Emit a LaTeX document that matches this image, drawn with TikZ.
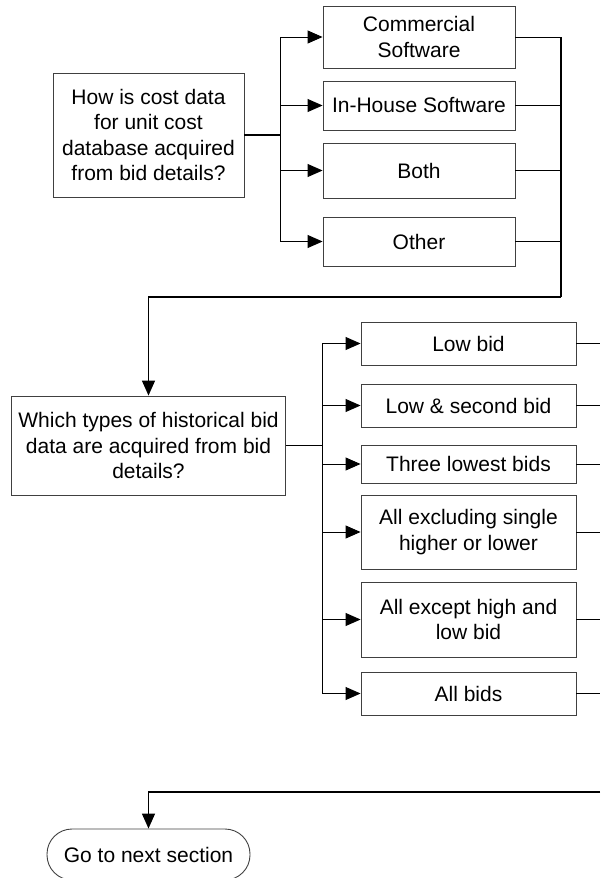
\documentclass[tikz,border=0pt]{standalone}
\usepackage{fontspec}
\setmainfont{Liberation Sans}
\usetikzlibrary{arrows.meta}

\begin{document}
\begin{tikzpicture}[x=1pt,y=-1pt,
    box/.style={draw=black!75, line width=0.9pt, align=center, inner sep=0pt,
        font=\fontsize{21}{25.5}\selectfont},
    tip/.style={-{Triangle[length=15pt,width=13pt]}},
    route/.style={line width=1.4pt, black},
    branch/.style={line width=0.9pt, black}]

    \useasboundingbox (0,0) rectangle (600,878);

    % questions
    \node[box, minimum width=191pt, minimum height=124pt] (q1) at (148.5,135)
        {How is cost data\\for unit cost\\database acquired\\from bid details?};
    \node[box, minimum width=274pt, minimum height=99pt] (q2) at (148.5,445.5)
        {Which types of historical bid\\data are acquired from bid\\details?};
    \node[box, minimum width=203pt, minimum height=51pt, rounded corners=25pt] (next) at (148.5,854.5)
        {Go to next section};

    % answers to the first question
    \foreach \name/\y/\h/\txt in {comm/37/62/{Commercial\\Software}, inhouse/105.5/49/{In-House Software},
            both/170.5/55/{Both}, other/241.5/49/{Other}}
        \node[box, minimum width=192pt, minimum height=\h pt] (\name) at (419,\y) {\txt};

    % answers to the second question
    \foreach \name/\y/\h/\txt in {low/343.5/43/{Low bid}, second/405.5/43/{Low \& second bid},
            three/464/38/{Three lowest bids}, excl/532/74/{All excluding single\\higher or lower},
            except/619.5/75/{All except high and\\low bid}, all/693.5/43/{All bids}}
        \node[box, minimum width=215pt, minimum height=\h pt] (\name) at (468.5,\y) {\txt};

    \coordinate (b1) at (280,135);
    \coordinate (r1) at (561,297);
    \coordinate (b2) at (322,445.5);
    \coordinate (r2) at (600,792);

    \draw[route] (q1.east) -- (b1);
    \draw[branch] (b1 |- comm.west) -- (b1 |- other.west);
    \foreach \name in {comm,inhouse,both,other} {
        \draw[branch,tip] (b1 |- \name.west) -- (\name.west);
        \draw[branch] (\name.east) -- (r1 |- \name.east);
    }
    \draw[route] (r1 |- comm.east) -- (r1);
    \draw[route,tip] (r1) -- (q2.north |- r1) -- (q2.north);

    \draw[route] (q2.east) -- (b2);
    \draw[branch] (b2 |- low.west) -- (b2 |- all.west);
    \foreach \name in {low,second,three,excl,except,all} {
        \draw[branch,tip] (b2 |- \name.west) -- (\name.west);
        \draw[branch] (\name.east) -- (r2 |- \name.east);
    }
    \draw[route,tip] (r2) -- (next.north |- r2) -- (next.north);

\end{tikzpicture}
\end{document}
